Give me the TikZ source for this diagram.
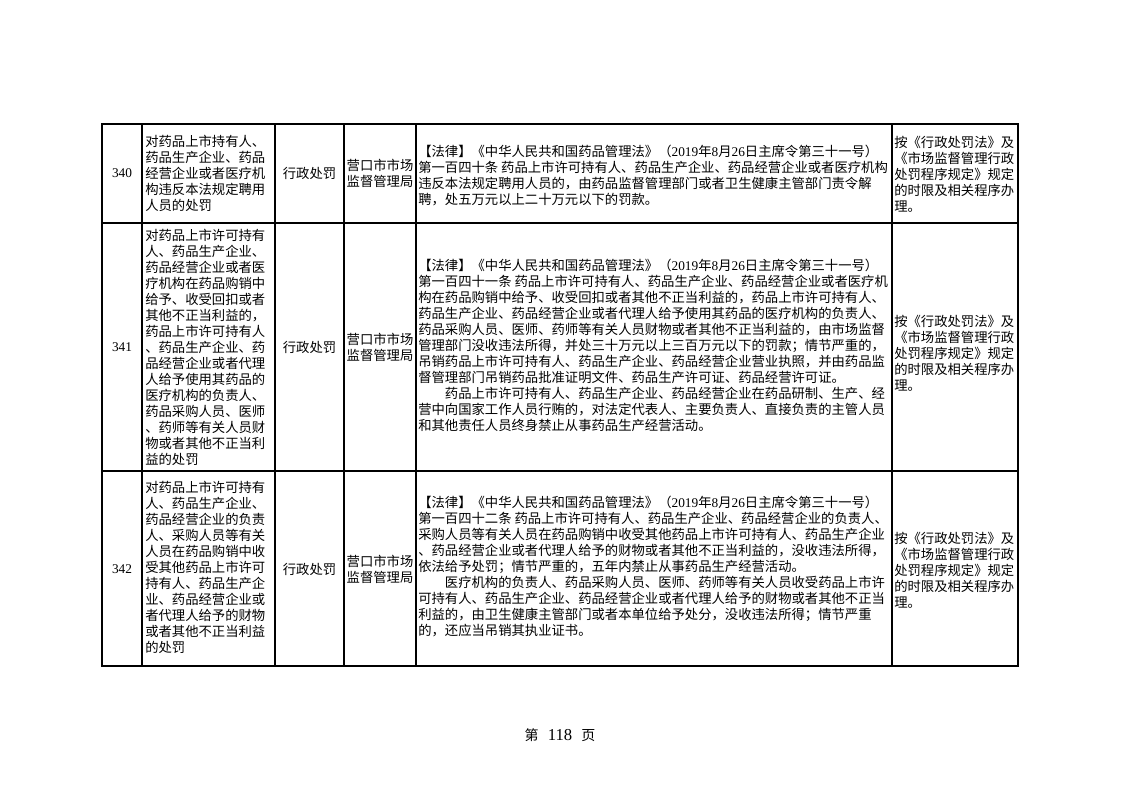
\documentclass[tikz,border=0pt]{standalone}
\usepackage{fontspec}
\setmainfont{Liberation Serif}
\newfontfamily\cjk{Noto Sans CJK SC}
\newcommand\lawhead{【法律】《中华人民共和国药品管理法》（{\rmfamily 2019}年{\rmfamily 8}月{\rmfamily 26}日主席令第三十一号）}

\begin{document}
\begin{tikzpicture}[x=0.75pt,y=-0.75pt,
    rule/.style={line width=0.9pt},
    frame/.style={line width=1.3pt},
    cell/.style={font={\cjk\fontsize{10}{12}\selectfont},inner sep=0pt,align=left,anchor=west},
    midcell/.style={cell,align=center,anchor=center},
    numcell/.style={font={\fontsize{10}{12}\selectfont},inner sep=0pt}]
    \fill[white] (0,0) rectangle (1122,793);
    \useasboundingbox (0,0) rectangle (1122,793);
    % table rules
    \draw[rule] (142,124) -- (142,666) (275,124) -- (275,666) (344,124) -- (344,666)
        (416,124) -- (416,666) (892,124) -- (892,666)
        (102,223) -- (1018,223) (102,471) -- (1018,471);
    \draw[frame] (102,124) rectangle (1018,666);

    % row 340
    \node[numcell] (num340) at (122,173) {340};
    \node[cell] (item340) at (145,173) {对药品上市持有人、\\药品生产企业、药品\\经营企业或者医疗机\\构违反本法规定聘用\\人员的处罚};
    \node[midcell] (kind340) at (309.5,173) {行政处罚};
    \node[midcell] (dept340) at (380,173) {营口市市场\\监督管理局};
    \node[cell] (law340) at (418,176) {\lawhead\\
        第一百四十条 药品上市许可持有人、药品生产企业、药品经营企业或者医疗机构\\
        违反本法规定聘用人员的，由药品监督管理部门或者卫生健康主管部门责令解\\
        聘，处五万元以上二十万元以下的罚款。};
    \node[cell] (proc340) at (894,174) {按《行政处罚法》及\\《市场监督管理行政\\处罚程序规定》规定\\的时限及相关程序办\\理。};

    % row 341
    \node[numcell] (num341) at (122,347) {341};
    \node[cell] (item341) at (145,347) {对药品上市许可持有\\人、药品生产企业、\\药品经营企业或者医\\疗机构在药品购销中\\给予、收受回扣或者\\其他不正当利益的，\\药品上市许可持有人\\、药品生产企业、药\\品经营企业或者代理\\人给予使用其药品的\\医疗机构的负责人、\\药品采购人员、医师\\、药师等有关人员财\\物或者其他不正当利\\益的处罚};
    \node[midcell] (kind341) at (309.5,347) {行政处罚};
    \node[midcell] (dept341) at (380,347) {营口市市场\\监督管理局};
    \node[cell] (law341) at (418,345) {\lawhead\\
        第一百四十一条 药品上市许可持有人、药品生产企业、药品经营企业或者医疗机\\
        构在药品购销中给予、收受回扣或者其他不正当利益的，药品上市许可持有人、\\
        药品生产企业、药品经营企业或者代理人给予使用其药品的医疗机构的负责人、\\
        药品采购人员、医师、药师等有关人员财物或者其他不正当利益的，由市场监督\\
        管理部门没收违法所得，并处三十万元以上三百万元以下的罚款；情节严重的，\\
        吊销药品上市许可持有人、药品生产企业、药品经营企业营业执照，并由药品监\\
        督管理部门吊销药品批准证明文件、药品生产许可证、药品经营许可证。\\
        \hspace*{2em}药品上市许可持有人、药品生产企业、药品经营企业在药品研制、生产、经\\
        营中向国家工作人员行贿的，对法定代表人、主要负责人、直接负责的主管人员\\
        和其他责任人员终身禁止从事药品生产经营活动。};
    \node[cell] (proc341) at (894,353) {按《行政处罚法》及\\《市场监督管理行政\\处罚程序规定》规定\\的时限及相关程序办\\理。};

    % row 342
    \node[numcell] (num342) at (122,569) {342};
    \node[cell] (item342) at (145,567) {对药品上市许可持有\\人、药品生产企业、\\药品经营企业的负责\\人、采购人员等有关\\人员在药品购销中收\\受其他药品上市许可\\持有人、药品生产企\\业、药品经营企业或\\者代理人给予的财物\\或者其他不正当利益\\的处罚};
    \node[midcell] (kind342) at (309.5,569) {行政处罚};
    \node[midcell] (dept342) at (380,569) {营口市市场\\监督管理局};
    \node[cell] (law342) at (418,566) {\lawhead\\
        第一百四十二条 药品上市许可持有人、药品生产企业、药品经营企业的负责人、\\
        采购人员等有关人员在药品购销中收受其他药品上市许可持有人、药品生产企业\\
        、药品经营企业或者代理人给予的财物或者其他不正当利益的，没收违法所得，\\
        依法给予处罚；情节严重的，五年内禁止从事药品生产经营活动。\\
        \hspace*{2em}医疗机构的负责人、药品采购人员、医师、药师等有关人员收受药品上市许\\
        可持有人、药品生产企业、药品经营企业或者代理人给予的财物或者其他不正当\\
        利益的，由卫生健康主管部门或者本单位给予处分，没收违法所得；情节严重\\
        的，还应当吊销其执业证书。};
    \node[cell] (proc342) at (894,570) {按《行政处罚法》及\\《市场监督管理行政\\处罚程序规定》规定\\的时限及相关程序办\\理。};

    % page number
    \node[font={\cjk\fontsize{10.5}{12}\selectfont},inner sep=0pt] (page) at (560,735)
        {第\hspace{0.65em}{\rmfamily\fontsize{12.5}{12}\selectfont 118}\hspace{0.65em}页};
\end{tikzpicture}
\end{document}
